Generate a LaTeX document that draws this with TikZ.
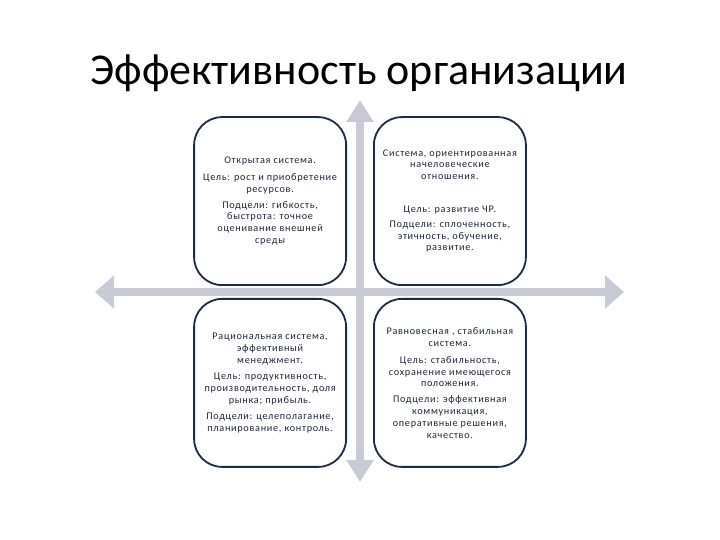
\documentclass[tikz,border=0pt]{standalone}
\usepackage{fontspec}
\setmainfont{Carlito}
\newfontfamily\boxfont{Carlito}[LetterSpace=7]
\usetikzlibrary{arrows.meta, positioning}
\definecolor{axisc}{RGB}{200,202,214}
\definecolor{framec}{RGB}{28,43,69}
\definecolor{txtc}{RGB}{30,38,58}
\tikzset{
  quad/.style={draw=framec, line width=1.8pt, rounded corners=28pt, fill=white,
               minimum width=152pt, minimum height=168pt, inner sep=1pt,
               align=center, text=txtc,
               font=\boxfont\fontsize{10.2}{11.8}\selectfont},
  axis/.style={{Triangle[length=19pt,width=32pt]}-{Triangle[length=19pt,width=32pt]},
               line width=8pt, draw=axisc},
  vaxis/.style={{Triangle[length=22pt,width=26pt]}-{Triangle[length=22pt,width=26pt]},
                line width=8pt, draw=axisc},
}

\begin{document}
\begin{tikzpicture}[x=1pt, y=1pt]
  \useasboundingbox (0,0) rectangle (720,540);
  \node[anchor=base, font=\fontsize{44}{50}\selectfont] (title) at (359,455)
    {Эффективность организации};
  % axes
  \coordinate (c) at (360,248);
  \coordinate (west)  at (95,248);
  \coordinate (east)  at (624,248);
  \coordinate (north) at (360,440);
  \coordinate (south) at (360,58);
  \draw[axis]  (west)  -- (east);
  \draw[vaxis] (north) -- (south);
  % quadrants
  \node[quad, above left=6pt and 13pt of c] (open)
    {Открытая система.\\[5pt]
     Цель: рост и приобретение\\ресурсов.\\[4pt]
     Подцели: гибкость,\\быстрота: точное\\оценивание  внешней\\среды};
  \node[quad, above right=6pt and 13pt of c] (human)
    {Система, ориентированная\\начеловеческие\\отношения.\\[21pt]
     Цель: развитие ЧР.\\[3pt]
     Подцели: сплоченность,\\этичность, обучение,\\развитие.};
  \node[quad, below left=6pt and 13pt of c] (rational)
    {Рациональная система,\\эффективный\\менеджмент.\\[5pt]
     Цель: продуктивность,\\производительность,  доля\\рынка; прибыль.\\[4pt]
     Подцели: целеполагание,\\планирование, контроль.};
  \node[quad, below right=6pt and 13pt of c] (stable)
    {Равновесная , стабильная\\система.\\[5pt]
     Цель: стабильность,\\сохранение имеющегося\\положения.\\[4pt]
     Подцели: эффективная\\коммуникация,\\оперативные решения,\\качество.};
\end{tikzpicture}
\end{document}
